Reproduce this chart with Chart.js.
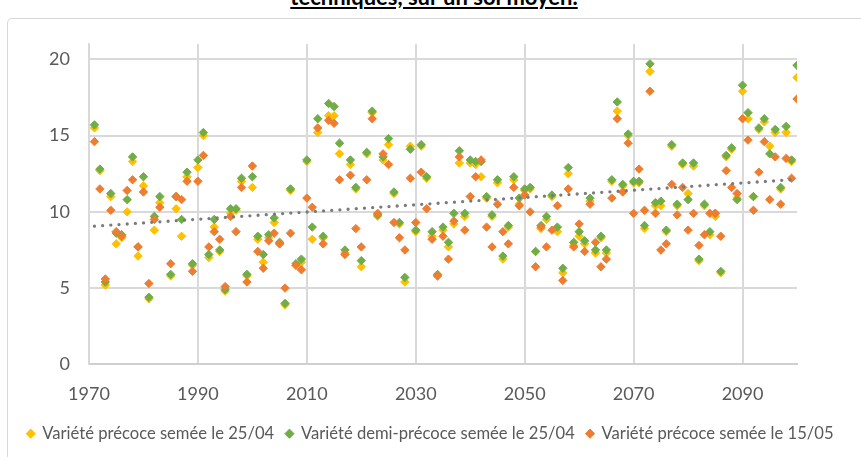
<!DOCTYPE html>
<html lang="fr">
<head>
<meta charset="utf-8">
<title>Rendement par variété</title>
<script src="https://cdn.jsdelivr.net/npm/chart.js@4.4.1/dist/chart.umd.min.js"></script>
<style>
  html, body { margin: 0; padding: 0; background: #fff; overflow: hidden; }
  #wrap { position: relative; width: 861px; height: 457px; overflow: hidden; }
  #frame {
    position: absolute; left: 7px; top: 18px; width: 900px; height: 500px;
    border: 1.5px solid #d9d9d9; border-radius: 5px; box-sizing: border-box;
  }
  #title {
    position: absolute; left: 0; top: -14.5px; width: 868px; text-align: center;
    font: bold 22px Lato, sans-serif; line-height: 22px; color: #000;
    text-decoration: underline;
  }
  #chart { position: absolute; left: 0; top: 0; }
</style>
</head>
<body>
<div id="wrap">
  <div id="frame"></div>
  <div id="title">techniques, sur un sol moyen.</div>
  <canvas id="chart" width="861" height="457"></canvas>
</div>
<script>
// =============================================================================
// DATA (1971-2100, 1984 absent)
// =============================================================================

const firstYear = 1971;
const lastYear = 2100;

const seriesLabels = [
  "Variété précoce semée le 25/04",
  "Variété demi-précoce semée le 25/04",
  "Variété précoce semée le 15/05",
];

// Variété précoce semée le 25/04 (jaune)
const precoce2504 = [
  15.5, 12.7, 5.2, 11.0, 7.9, 8.3, 10.0, 13.3, 7.1, 11.7,
  4.3, 8.8, 10.6, null, 5.8, 10.2, 8.4, 12.3, 6.5, 12.9,
  15.0, 7.0, 9.0, 7.4, 4.8, 9.9, 10.1, 12.0, 5.8, 11.6,
  8.2, 6.7, 8.3, 9.3, 7.9, 3.9, 11.4, 6.5, 6.7, 13.3,
  8.2, 15.2, 8.3, 16.3, 16.3, 13.8, 7.3, 13.1, 11.5, 6.4,
  13.8, 16.5, 9.7, 13.4, 14.4, 11.2, 9.2, 5.4, 14.3, 8.7,
  14.3, 12.2, 8.4, 5.8, 8.8, 7.7, 9.2, 13.2, 9.7, 13.2,
  13.1, 12.3, 10.9, 9.7, 11.9, 6.9, 9.0, 12.1, 10.5, 11.4,
  11.5, 7.4, 8.9, 9.5, 11.0, 8.7, 6.0, 12.5, 7.8, 8.4,
  7.9, 10.7, 7.3, 8.3, 7.3, 12.0, 16.6, 11.7, 15.0, 11.9,
  11.9, 8.9, 19.2, 10.4, 10.4, 8.7, 14.3, 10.4, 13.1, 11.2,
  13.0, 6.8, 10.4, 8.5, 9.7, 6.0, 13.6, 14.1, 10.9, 17.9,
  16.1, 11.0, 15.4, 15.9, 14.3, 15.2, 11.5, 15.2, 13.3, 18.8,
];

// Variété demi-précoce semée le 25/04 (vert)
const demiPrecoce2504 = [
  15.7, 12.8, 5.4, 11.2, 8.6, 8.5, 10.8, 13.6, 7.7, 12.3,
  4.4, 9.7, 11.0, null, 5.9, 11.0, 9.5, 12.6, 6.6, 13.4,
  15.2, 7.2, 9.5, 7.5, 4.9, 10.2, 10.2, 12.2, 5.9, 12.3,
  8.4, 7.2, 8.5, 9.6, 8.0, 4.0, 11.5, 6.6, 6.9, 13.4,
  9.0, 16.1, 8.4, 17.1, 16.9, 14.5, 7.5, 13.4, 11.6, 6.8,
  13.9, 16.6, 9.8, 13.6, 14.8, 11.3, 9.3, 5.7, 14.1, 8.8,
  14.4, 12.3, 8.7, 5.9, 9.0, 8.0, 9.9, 14.0, 9.9, 13.4,
  13.3, 13.3, 11.0, 9.8, 12.1, 7.1, 9.1, 12.3, 10.9, 11.5,
  11.6, 7.4, 9.1, 9.7, 11.1, 9.0, 6.3, 12.9, 8.0, 8.7,
  8.1, 10.9, 7.5, 8.4, 7.5, 12.1, 17.2, 11.8, 15.1, 12.0,
  12.0, 9.1, 19.7, 10.6, 10.7, 8.8, 14.4, 10.5, 13.2, 10.8,
  13.2, 6.9, 10.5, 8.7, 9.9, 6.1, 13.7, 14.2, 10.8, 18.3,
  16.5, 11.0, 15.5, 16.1, 13.8, 15.4, 11.6, 15.6, 13.4, 19.6,
];

// Variété précoce semée le 15/05 (orange)
const precoce1505 = [
  14.6, 11.5, 5.6, 10.1, 8.7, 8.4, 11.4, 12.1, 7.7, 11.3,
  5.3, 9.5, 10.3, null, 6.6, 11.0, 10.8, 12.0, 6.1, 12.0,
  13.7, 7.7, 8.7, 8.2, 5.1, 9.7, 8.7, 11.6, 5.4, 13.0,
  7.4, 6.3, 8.1, 8.6, 7.9, 5.0, 8.6, 6.5, 6.2, 10.9,
  10.3, 15.5, 7.9, 16.0, 15.8, 12.1, 7.2, 12.4, 8.9, 7.7,
  12.1, 16.1, 9.9, 13.8, 13.1, 9.3, 8.3, 7.5, 12.2, 9.3,
  12.6, 10.2, 8.2, 5.8, 8.4, 6.9, 9.4, 13.6, 8.8, 11.0,
  12.3, 13.4, 9.0, 7.7, 10.5, 8.7, 7.9, 11.6, 10.4, 11.1,
  10.0, 6.4, 9.0, 7.7, 8.8, 10.4, 5.5, 11.5, 7.7, 9.2,
  7.4, 10.5, 8.0, 6.4, 6.9, 10.9, 16.1, 11.3, 14.5, 9.9,
  12.8, 10.1, 17.9, 9.9, 7.5, 7.9, 11.8, 9.8, 11.6, 8.8,
  9.9, 7.8, 8.5, 9.9, 9.9, 8.4, 12.7, 11.6, 11.2, 16.1,
  14.7, 10.1, 12.6, 14.6, 10.8, 13.6, 10.5, 13.5, 12.2, 17.4,
];

// Linear trend (grey dotted line), end values
const trendYears = [1971, 2100];
const trendValues = [9.06, 12.13];

const xTickValues = [1970, 1990, 2010, 2030, 2050, 2070, 2090];
const yTickValues = [0, 5, 10, 15, 20];

const seriesColors = ["#FFC000", "#70AD47", "#ED7D31"];

// =============================================================================
// CHART
// =============================================================================

const years = [];
for (let y = firstYear; y <= lastYear; y++) years.push(y);

const toPoints = (values) =>
  values.map((v, i) => ({ x: years[i], y: v })).filter((p) => p.y != null);

const scatterSet = (label, values, color, order) => ({
  label,
  data: toPoints(values),
  backgroundColor: color,
  borderColor: color,
  pointStyle: "rectRot",
  pointRadius: 4.2,
  pointBorderWidth: 1,
  pointHoverRadius: 4.2,
  order,
});

const axisFont = { family: "Lato", size: 18 };
const gridColor = "#d9d9d9";

const drawChart = () => {
  const canvas = document.getElementById("chart");
  new Chart(canvas, {
    type: "scatter",
    data: {
      datasets: [
        scatterSet(seriesLabels[0], precoce2504, seriesColors[0], 3),
        scatterSet(seriesLabels[1], demiPrecoce2504, seriesColors[1], 2),
        scatterSet(seriesLabels[2], precoce1505, seriesColors[2], 1),
        {
          label: "Tendance",
          data: trendYears.map((x, i) => ({ x, y: trendValues[i] })),
          showLine: true,
          borderColor: "#7a7a7a",
          borderWidth: 3.3,
          borderDash: [0, 8.2],
          borderCapStyle: "round",
          pointRadius: 0,
          pointHoverRadius: 0,
          order: 0,
        },
      ],
    },
    options: {
      responsive: false,
      animation: false,
      events: [],
      layout: { padding: { top: 44, right: 0, left: 0, bottom: 5 } },
      scales: {
        x: {
          type: "linear",
          min: 1970,
          max: 2100,
          afterBuildTicks: (scale) => { scale.ticks = xTickValues.map((value) => ({ value })); },
          afterFit: (scale) => { scale.height = 49; },
          ticks: {
            padding: 19,
            color: "#595959",
            font: axisFont,
            maxRotation: 0,
            autoSkip: false,
            callback: (v) => String(v),
          },
          grid: { color: gridColor, lineWidth: 2, drawTicks: false },
          border: { color: "#cfcfcf", width: 2 },
        },
        y: {
          min: 0,
          max: 21,
          afterBuildTicks: (scale) => { scale.ticks = yTickValues.map((value) => ({ value })); },
          afterFit: (scale) => { scale.width = 89; },
          ticks: {
            padding: 19,
            color: "#595959",
            font: axisFont,
            callback: (v) => String(v),
          },
          grid: { color: gridColor, lineWidth: 2, drawTicks: false },
          border: { color: gridColor, width: 2 },
        },
        // empty right-hand spacer so the plot stops at 2100 while the legend keeps full width
        spacer: {
          type: "linear",
          position: "right",
          afterFit: (scale) => { scale.width = 64; },
          ticks: { display: false },
          grid: { display: false, drawTicks: false },
          border: { display: false },
        },
      },
      plugins: {
        legend: {
          position: "bottom",
          labels: {
            usePointStyle: true,
            pointStyle: "rectRot",
            boxWidth: 6.5,
            boxHeight: 6.5,
            padding: 12,
            color: "#595959",
            font: { family: "Lato", size: 16.6 },
            filter: (item) => item.datasetIndex < 3,
            sort: (a, b) => a.datasetIndex - b.datasetIndex,
          },
        },
        tooltip: { enabled: false },
      },
    },
  });
};

if (document.fonts && document.fonts.load) {
  Promise.all([
    document.fonts.load("18px Lato"),
    document.fonts.load("bold 22px Lato"),
  ]).then(drawChart, drawChart);
} else {
  drawChart();
}
</script>
</body>
</html>
